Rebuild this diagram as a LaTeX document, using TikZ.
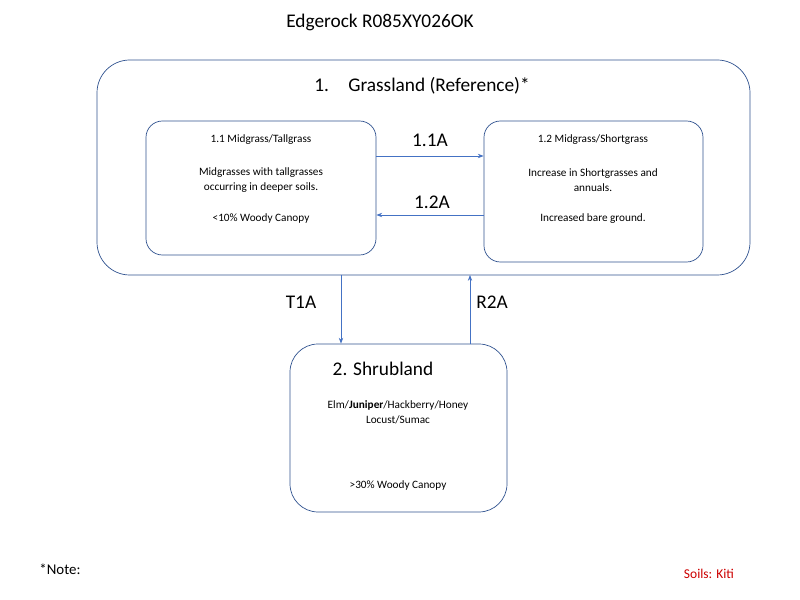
\documentclass[tikz,border=0pt]{standalone}
\usepackage{fontspec}
\usetikzlibrary{arrows.meta}
\setmainfont{Carlito}
\begin{document}
\begin{tikzpicture}[x=0.03cm,y=-0.03cm,
  box/.style={draw=boxc,line width=0.6pt},
  arr/.style={draw=arrc,line width=0.7pt,-{Stealth[length=5pt]}},
  sm/.style={font=\fontsize{9.6}{12.5}\selectfont,align=center},
  lab/.style={font=\fontsize{16.5}{19}\selectfont}]
\definecolor{boxc}{RGB}{47,82,143}
\definecolor{arrc}{RGB}{68,114,196}
\useasboundingbox (0,0) rectangle (800,600);
\node[lab] (title) at (380,22) {Edgerock R085XY026OK};
\draw[box,rounded corners=28] (97,60) rectangle (750,275);
\coordinate (outerb) at (470,275);
\node[lab] (g) at (422,86) {1.\quad Grassland (Reference)*};
\node[box,rounded corners=14,minimum width=230*0.03cm,minimum height=134*0.03cm] (a) at (261,188) {};
\node[box,rounded corners=14,minimum width=219*0.03cm,minimum height=141*0.03cm] (b) at (593.5,191.5) {};
\node[sm] at (261,140) {1.1 Midgrass/Tallgrass};
\node[sm] at (261,180) {Midgrasses with tallgrasses\\occurring in deeper soils.};
\node[sm] at (261,219) {<10\% Woody Canopy};
\node[sm] at (593,140) {1.2 Midgrass/Shortgrass};
\node[sm] at (593,180) {Increase in Shortgrasses and\\annuals.};
\node[sm] at (593,219) {Increased bare ground.};
\draw[arr] (a.east|-0,156) -- (b.west|-0,156);
\draw[arr] (b.west|-0,215) -- (a.east|-0,215);
\node[lab] at (430,140) {1.1A};
\node[lab] at (432,202) {1.2A};
\node[box,rounded corners=24,minimum width=217*0.03cm,minimum height=168*0.03cm] (s) at (398.5,428) {};
\node[lab] at (383,369) {2. Shrubland};
\node[sm] at (398,412) {Elm/\textbf{Juniper}/Hackberry/Honey\\Locust/Sumac};
\node[sm] at (398,486) {>30\% Woody Canopy};
\draw[arr] (341,275) -- (s.north-|341,0);
\draw[arr] (s.north-|470,0) -- (outerb);
\node[lab] at (301,302) {T1A};
\node[lab] at (492,302) {R2A};
\node[font=\fontsize{12.7}{15}\selectfont] at (60,569) {*Note:};
\node[font=\fontsize{11.5}{13}\selectfont,text=red!80!black] at (709,574) {Soils: Kiti};
\end{tikzpicture}
\end{document}
